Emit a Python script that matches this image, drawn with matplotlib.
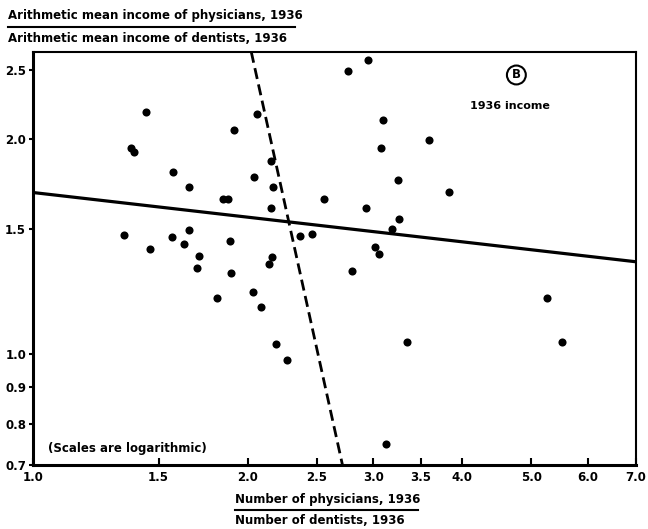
import matplotlib
matplotlib.use("Agg")
import matplotlib.pyplot as plt
from matplotlib.lines import Line2D
from matplotlib.ticker import FixedLocator, NullLocator, FixedFormatter

# ratio physicians/dentists (x) vs ratio of mean incomes (y)
x_vals = [1.439, 1.370, 1.387, 1.571, 1.656, 1.911, 2.060, 2.156, 2.040, 2.172,
          1.848, 1.878, 2.154, 2.555, 1.343, 1.460, 1.564, 1.628, 1.656, 1.708,
          1.696, 1.890, 1.896, 1.809, 2.032, 2.085, 2.139, 2.160, 2.369, 2.463,
          2.193, 2.268, 2.947, 2.763, 3.094, 3.593, 3.071, 3.254, 3.828, 2.935,
          3.258, 3.185, 3.019, 3.055, 2.803, 5.265, 5.517, 3.346, 3.130]
y_vals = [2.185, 1.944, 1.922, 1.803, 1.714, 2.062, 2.169, 1.866, 1.774, 1.714,
          1.649, 1.652, 1.603, 1.651, 1.468, 1.406, 1.460, 1.426, 1.494, 1.375,
          1.320, 1.441, 1.301, 1.198, 1.222, 1.165, 1.339, 1.370, 1.466, 1.476,
          1.033, 0.981, 2.587, 2.492, 2.132, 1.998, 1.945, 1.755, 1.690, 1.605,
          1.549, 1.500, 1.415, 1.382, 1.308, 1.198, 1.042, 1.040, 0.749]

# regression line (solid) and dashed line endpoints
solid_x = [1.0, 7.0]
solid_y = [1.685, 1.348]
dash_x = [2.023, 2.716]
dash_y = [2.652, 0.70]

x_ticks = [1.0, 1.5, 2.0, 2.5, 3.0, 3.5, 4.0, 5.0, 6.0, 7.0]
x_ticklabels = ["1.0", "1.5", "2.0", "2.5", "3.0", "3.5", "4.0", "5.0", "6.0", "7.0"]
y_ticks = [0.7, 0.8, 0.9, 1.0, 1.5, 2.0, 2.5]
y_ticklabels = ["0.7", "0.8", "0.9", "1.0", "1.5", "2.0", "2.5"]

plt.rcParams['font.family'] = ['DejaVu Sans']
fig = plt.figure(figsize=(6.48, 5.29), dpi=100)
ax = fig.add_axes([0.051, 0.121, 0.930, 0.781])
ax.set_xscale('log')
ax.set_yscale('log')
ax.set_xlim(1.0, 7.0)
ax.set_ylim(0.7, 2.652)

ax.scatter(x_vals, y_vals, s=34, color='black', zorder=3, linewidths=0)
ax.plot(solid_x, solid_y, color='black', lw=2.3, solid_capstyle='butt')
ax.plot(dash_x, dash_y, color='black', lw=2.0, dashes=(4.0, 2.0))

ax.xaxis.set_major_locator(FixedLocator(x_ticks))
ax.xaxis.set_major_formatter(FixedFormatter(x_ticklabels))
ax.xaxis.set_minor_locator(NullLocator())
ax.yaxis.set_major_locator(FixedLocator(y_ticks))
ax.yaxis.set_major_formatter(FixedFormatter(y_ticklabels))
ax.yaxis.set_minor_locator(NullLocator())

ax.tick_params(axis='x', direction='in', length=5, width=1.5, pad=4, labelsize=8.5)
ax.tick_params(axis='y', direction='out', length=3, width=1.5, pad=2, labelsize=8.5)
for lab in ax.get_xticklabels() + ax.get_yticklabels():
    lab.set_fontweight('bold')

for side, w in [('left', 2.2), ('bottom', 2.2), ('top', 1.5), ('right', 1.5)]:
    ax.spines[side].set_linewidth(w)

ax.text(0.025, 0.039, "(Scales are logarithmic)", transform=ax.transAxes,
        fontsize=8.5, fontweight='bold', ha='left', va='center')
ax.text(0.802, 0.944, "B", transform=ax.transAxes, fontsize=8.5, fontweight='bold',
        ha='center', va='center',
        bbox=dict(boxstyle='circle,pad=0.25', fc='white', ec='black', lw=1.5))
ax.text(0.725, 0.869, "1936 income", transform=ax.transAxes, fontsize=8,
        fontweight='bold', ha='left', va='center')

# y label (fraction) at top-left
W, H = 648, 529
fig.text(8 / W, 1 - 15 / H, "Arithmetic mean income of physicians, 1936",
         fontsize=8.5, fontweight='bold', ha='left', va='center')
fig.add_artist(Line2D([8 / W, 295 / W], [1 - 27 / H, 1 - 27 / H], color='black', lw=1.5))
fig.text(8 / W, 1 - 38 / H, "Arithmetic mean income of dentists, 1936",
         fontsize=8.5, fontweight='bold', ha='left', va='center')

# x label (fraction) at bottom
fig.text(235 / W, 1 - 500 / H, "Number of physicians, 1936",
         fontsize=8.5, fontweight='bold', ha='left', va='center')
fig.add_artist(Line2D([235 / W, 418 / W], [1 - 510 / H, 1 - 510 / H], color='black', lw=1.5))
fig.text(235 / W, 1 - 520 / H, "Number of dentists, 1936",
         fontsize=8.5, fontweight='bold', ha='left', va='center')

fig.savefig("out.png", dpi=100)
